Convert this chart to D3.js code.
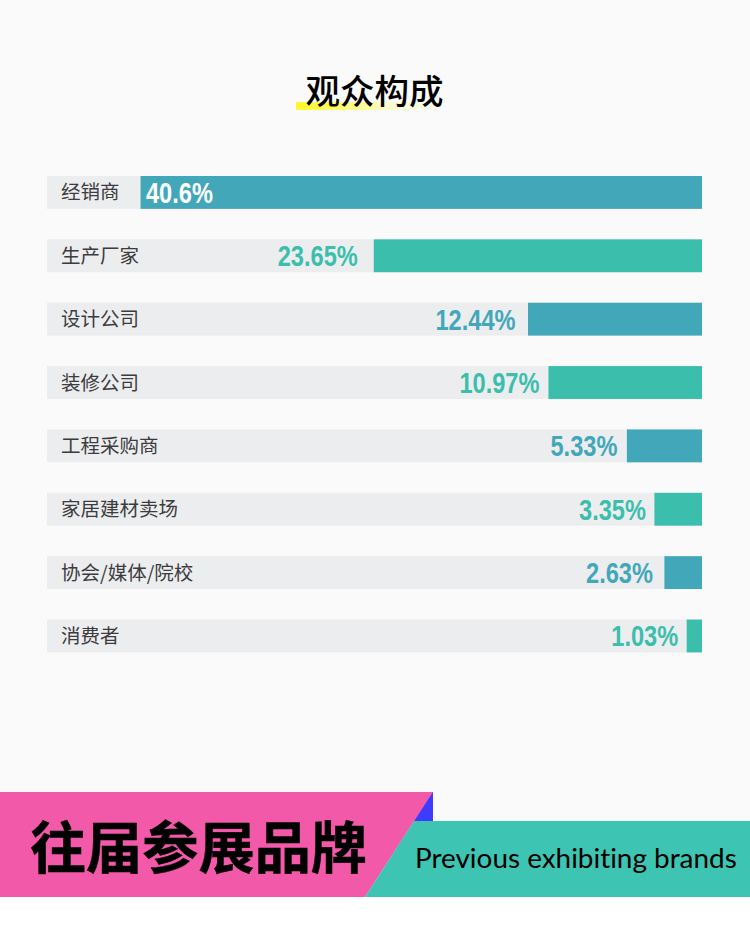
<!DOCTYPE html>
<html><head><meta charset="utf-8">
<script src="https://cdnjs.cloudflare.com/ajax/libs/d3/7.8.5/d3.min.js"></script>
<style>html,body{margin:0;padding:0;background:#fff}svg{display:block}</style>
</head><body>
<svg id="c" width="750" height="939"></svg>
<script>
const categories=["经销商","生产厂家","设计公司","装修公司","工程采购商","家居建材卖场","协会/媒体/院校","消费者"];
const values=[40.6,23.65,12.44,10.97,5.33,3.35,2.63,1.03];
const valueLabels=["40.6%","23.65%","12.44%","10.97%","5.33%","3.35%","2.63%","1.03%"];
const colors=["#43a7ba","#3bbfac"];
const title="观众构成";
const bannerCn="往届参展品牌";
const bannerEn="Previous exhibiting brands";

const svg=d3.select("#c");
const cjk="'Noto Sans CJK SC','Noto Sans',sans-serif";
const num="'Liberation Sans',Arial,sans-serif";
svg.append("rect").attr("width",750).attr("height",897).attr("fill","#fafafa");

const defs=svg.append("defs");
const g=defs.append("linearGradient").attr("id","hl");
g.append("stop").attr("offset",0).attr("stop-color","#fff82a");
g.append("stop").attr("offset",0.3).attr("stop-color","#fffa70");
g.append("stop").attr("offset",0.6).attr("stop-color","#fdfbc8");
g.append("stop").attr("offset",1).attr("stop-color","#fafafa");
svg.append("rect").attr("x",296).attr("y",102).attr("width",150).attr("height",8).attr("fill","url(#hl)");
svg.append("text").attr("x",374.5).attr("y",104).attr("text-anchor","middle")
  .attr("font-family",cjk).attr("font-weight",500).attr("font-size",34.5).attr("fill","#000").text(title);

const x=d3.scaleLinear().domain([0,12.44,47.4]).range([1,174,655]);
const y=d3.scaleBand().domain(categories).range([176,652.4]).paddingInner(0.4812).paddingOuter(0).align(0);
const labelGap=[0,16,12.5,9,9.5,8.5,11.5,8.5];
const rows=svg.selectAll("g.row").data(categories).join("g").attr("class","row")
  .attr("transform",d=>`translate(0,${y(d)})`);
rows.append("rect").attr("x",47).attr("width",655).attr("height",y.bandwidth()).attr("fill","#ecedef");
rows.append("rect").attr("x",(d,i)=>702-x(values[i])).attr("width",(d,i)=>x(values[i]))
  .attr("height",y.bandwidth()).attr("fill",(d,i)=>colors[i%2]);
rows.append("text").attr("x",61).attr("y",y.bandwidth()/2+7).attr("font-family",cjk)
  .attr("font-size",19.5).attr("fill","#3c3c3e").text(d=>d);
rows.append("text")
  .attr("transform",(d,i)=>`translate(${i===0?146:702-x(values[i])-labelGap[i]},${y.bandwidth()/2+10.5}) scale(0.8,1)`)
  .attr("text-anchor",(d,i)=>i===0?"start":"end")
  .attr("font-family",num).attr("font-weight",700).attr("font-size",29.5)
  .attr("fill",(d,i)=>i===0?"#fff":colors[i%2])
  .text((d,i)=>valueLabels[i]);

const line=d3.line();
svg.append("path").attr("d",line([[400,792],[433,792],[433,821],[400,821]])+"Z").attr("fill","#3c3cff");
svg.append("path").attr("d",line([[0,792],[433,792],[365,897],[0,897]])+"Z").attr("fill","#f259a9");
svg.append("path").attr("d",line([[414,821],[750,821],[750,897],[365,897]])+"Z").attr("fill","#3ec4b2");
svg.append("text").attr("x",198.5).attr("y",868).attr("text-anchor","middle").attr("font-family",cjk)
  .attr("font-weight",700).attr("font-size",56.2).attr("fill","#000").attr("stroke","#000").attr("stroke-width",0.5).text(bannerCn);
svg.append("text").attr("x",415).attr("y",868).attr("font-family","Lato,'Open Sans',sans-serif")
  .attr("font-size",27.9).attr("fill","#000").style("font-variant-ligatures","none").text(bannerEn);
</script>
</body></html>
